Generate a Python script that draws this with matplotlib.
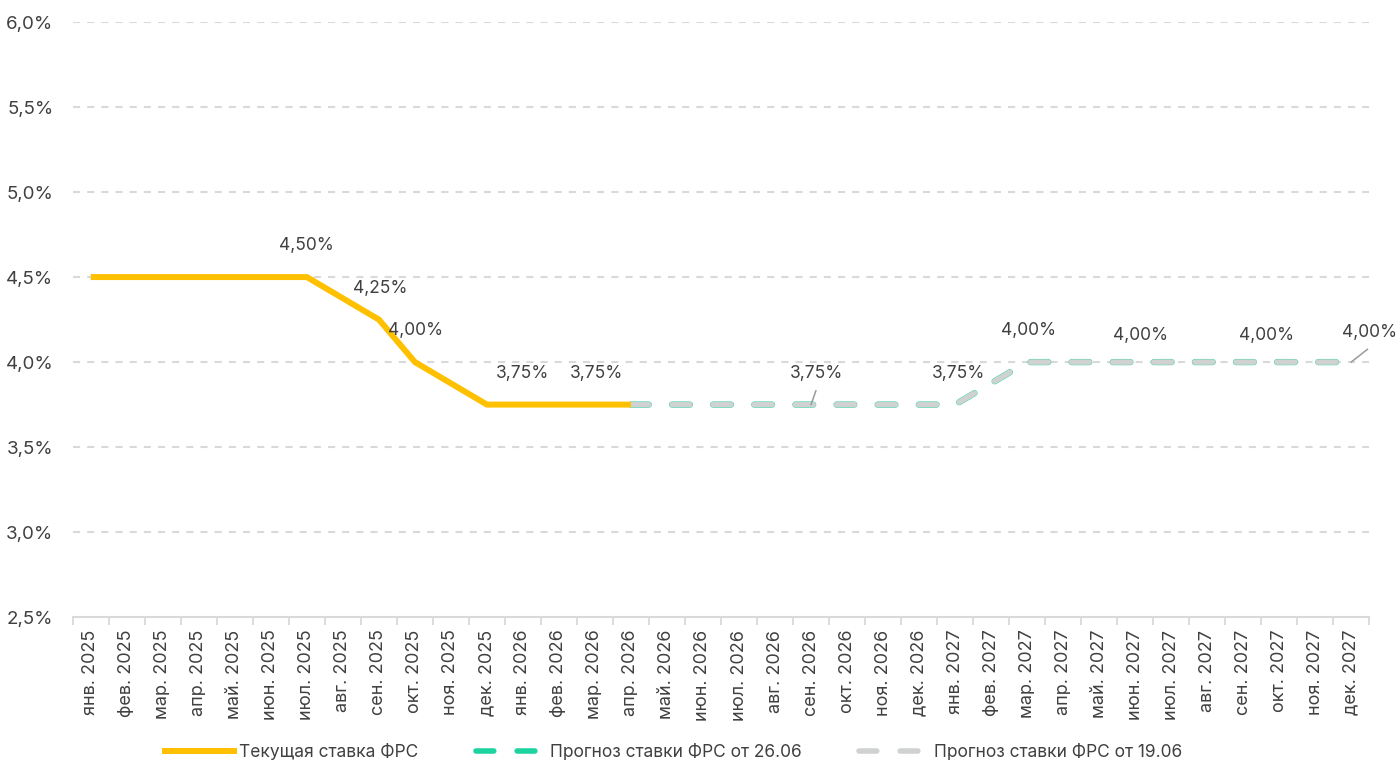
import numpy as np
import matplotlib
matplotlib.use("Agg")
import matplotlib.pyplot as plt
from matplotlib.lines import Line2D

plt.rcParams['font.family'] = ['Inter', 'DejaVu Sans']

# Данные
months = ["янв.", "фев.", "мар.", "апр.", "май.", "июн.",
          "июл.", "авг.", "сен.", "окт.", "ноя.", "дек."]
labels = [f"{m} {y}" for y in (2025, 2026, 2027) for m in months]

current_rate = [4.50, 4.50, 4.50, 4.50, 4.50, 4.50, 4.50, 4.375, 4.25, 4.00,
                3.875, 3.75, 3.75, 3.75, 3.75, 3.75]
forecast_2606 = [None] * 15 + [3.75] * 10 + [3.875] + [4.00] * 10
forecast_1906 = [None] * 15 + [3.75] * 10 + [3.875] + [4.00] * 10

# подписи: (индекс, значение, текст, dx, dy, линия-выноска)
cur_labels = [(6, 4.50, "4,50%", 0.0, 0.135, False),
              (8, 4.25, "4,25%", 0.05, 0.135, False),
              (9, 4.00, "4,00%", 0.03, 0.135, False),
              (12, 3.75, "3,75%", 0.0, 0.135, False),
              (14, 3.75, "3,75%", 0.05, 0.135, False)]
fc_labels = [(20, 3.75, "3,75%", 0.15, 0.135, True),
             (24, 3.75, "3,75%", 0.1, 0.135, False),
             (26, 4.00, "4,00%", 0.05, 0.135, False),
             (29, 4.00, "4,00%", 0.14, 0.105, False),
             (32, 4.00, "4,00%", 0.64, 0.105, False),
             (35, 4.00, "4,00%", 0.5, 0.125, True)]

YELLOW = "#FFC000"
GREEN = "#1DD3A0"
GREY = "#D0D2D1"
TXT = "#404040"

LW_FC = 4.0
DASH = (3.2, 4.2)

x = np.arange(len(labels))

fig, ax = plt.subplots(figsize=(14, 7.6), dpi=100)
fig.subplots_adjust(left=0.052, right=0.978, top=0.971, bottom=0.188)

def to_arr(vals):
    return np.array([np.nan if v is None else v for v in vals], dtype=float)

ax.plot(x[:len(current_rate)], current_rate, color=YELLOW, lw=4.3,
        solid_capstyle='butt', solid_joinstyle='miter', zorder=4)
lw_g = 4.5
ax.plot(x, to_arr(forecast_2606), color=GREEN, lw=lw_g,
        dashes=(DASH[0] * LW_FC / lw_g, DASH[1] * LW_FC / lw_g),
        dash_capstyle='round', zorder=2)
ax.plot(x, to_arr(forecast_1906), color=GREY, lw=LW_FC, dashes=DASH,
        dash_capstyle='round', zorder=3)

for i, v, t, dx, dy, lead in cur_labels + fc_labels:
    ax.text(i + dx, v + dy, t, ha='center', va='bottom', fontsize=12.5,
            color=TXT, zorder=6)
    if lead:
        ax.plot([i, i + dx * 0.9], [v, v + dy * 0.6], color="#9A9A9A",
                lw=1.1, zorder=5)

ax.set_xlim(-0.5, len(labels) - 0.5)
ax.set_ylim(2.5, 6.0)
yt = np.arange(2.5, 6.01, 0.5)
ax.set_yticks(yt)
ax.set_yticklabels([f"{v:.1f}%".replace(".", ",") for v in yt],
                   fontsize=13.5, color=TXT)
ax.set_xticks(x)
ax.set_xticklabels(labels, rotation=90, fontsize=13, color=TXT)
ax.set_xticks(np.arange(-0.5, len(labels), 1), minor=True)
ax.tick_params(axis='x', which='major', length=0, pad=9)
ax.tick_params(axis='x', which='minor', length=6, color="#D9D9D9", width=1.3)
ax.tick_params(axis='y', length=0, pad=14)

for v in yt[1:]:
    ax.axhline(v, color="#D9D9D9", lw=1.5, dashes=(3.4, 3.4), zorder=1)

for s in ('top', 'right', 'left'):
    ax.spines[s].set_visible(False)
ax.spines['bottom'].set_color("#D9D9D9")
ax.spines['bottom'].set_linewidth(1.5)

handles = [Line2D([], [], color=YELLOW, lw=4.3),
           Line2D([], [], color=GREEN, lw=LW_FC, dashes=DASH,
                  dash_capstyle='round'),
           Line2D([], [], color=GREY, lw=LW_FC, dashes=DASH,
                  dash_capstyle='round')]
names = ["Текущая ставка ФРС", "Прогноз ставки ФРС от 26.06",
         "Прогноз ставки ФРС от 19.06"]
fig.legend(handles, names, loc='lower center', ncol=3, frameon=False,
           fontsize=12.5, bbox_to_anchor=(0.481, -0.022), handlelength=4.0,
           columnspacing=3.3, handletextpad=0.3, labelcolor=TXT)

fig.savefig("out.png", dpi=100)
